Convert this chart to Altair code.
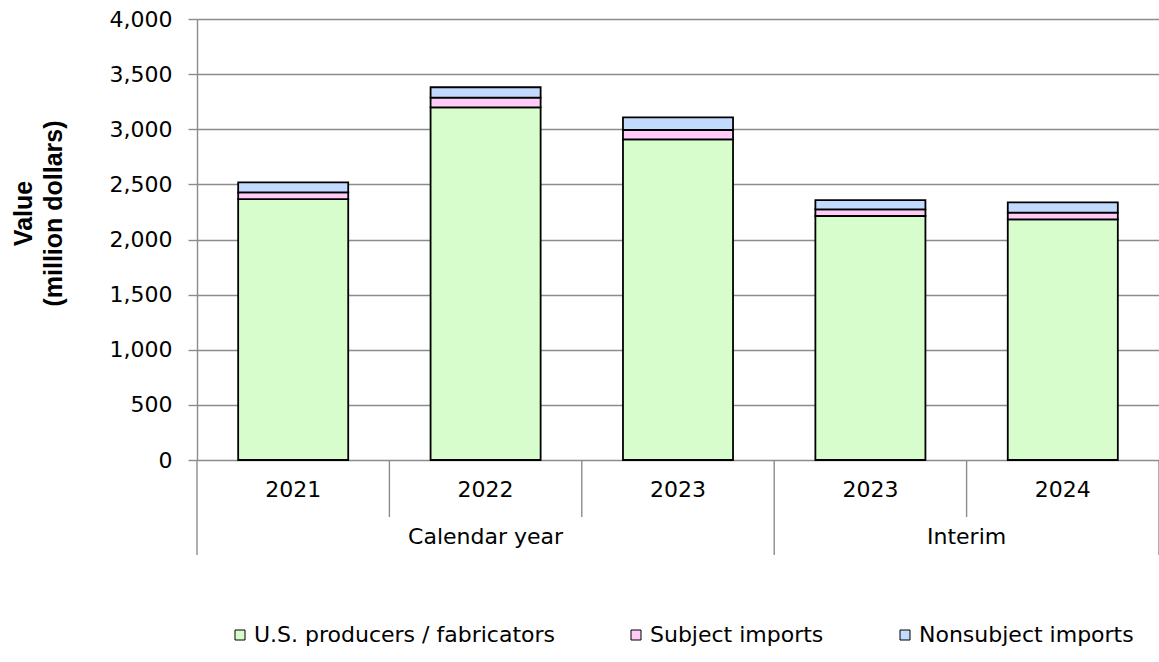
import altair as alt
import pandas as pd

# Values in million dollars, one entry per period column
years = ["2021", "2022", "2023", "2023", "2024"]
periods = ["Calendar year", "Calendar year", "Calendar year", "Interim", "Interim"]
us_producers = [2367, 3199, 2909, 2213, 2183]
subject_imports = [61, 87, 84, 61, 60]
nonsubject_imports = [91, 95, 115, 84, 94]

series = ["U.S. producers / fabricators", "Subject imports", "Nonsubject imports"]
colors = ["#d7fdcc", "#ffccf8", "#c2dafd"]

FONT = "DejaVu Sans"
TITLE_FONT = "Liberation Sans"
FS = 22
GRID = "#8c8c8c"

rows = []
for i, (u, s, n) in enumerate(zip(us_producers, subject_imports, nonsubject_imports)):
    for k, (name, v) in enumerate(zip(series, (u, s, n))):
        rows.append({"idx": i, "series": name, "order": k, "value": v})
bars_df = pd.DataFrame(rows)

labels_df = pd.DataFrame({"idx": list(range(len(years))), "year": years, "period": periods})

# group extents along the category axis
groups = []
for p in dict.fromkeys(periods):
    members = [i for i, q in enumerate(periods) if q == p]
    groups.append({"period": p, "start": members[0], "end": members[-1] + 1})
groups_df = pd.DataFrame(groups)

# separators: short ones between years, long ones between groups
bounds = sorted({g["start"] for g in groups} | {g["end"] for g in groups})
short_df = pd.DataFrame({"pos": [b for b in range(len(years) + 1) if b not in bounds]})
long_df = pd.DataFrame({"pos": bounds})

xscale = alt.Scale(domain=[0, len(years)], nice=False, zero=False)
yscale = alt.Scale(domain=[0, 4000], nice=False)
H = 441

bars = (
    alt.Chart(bars_df)
    .transform_stack(stack="value", groupby=["idx"], as_=["y0", "y1"],
                     sort=[alt.SortField("order", order="ascending")])
    .transform_calculate(xl="datum.idx + 0.214", xr="datum.idx + 0.786")
    .mark_bar(stroke="black", strokeWidth=1.8)
    .encode(
        x=alt.X("xl:Q", scale=xscale, axis=None),
        x2="xr:Q",
        y=alt.Y(
            "y0:Q",
            scale=yscale,
            axis=alt.Axis(
                values=list(range(0, 4001, 500)),
                format=",d",
                grid=True,
                gridColor=GRID,
                gridWidth=1.4,
                domainColor=GRID,
                domainWidth=1.4,
                tickColor=GRID,
                tickWidth=1.4,
                tickSize=9,
                labelPadding=16,
                labelFont=FONT,
                labelFontSize=FS,
                labelColor="black",
                title=["Value", "(million dollars)"],
                titleFont=TITLE_FONT,
                titleFontSize=25,
                titleFontWeight="bold",
                titleColor="black",
                titleAngle=270,
                titleAlign="center",
                titleBaseline="top",
                titleX=-186,
                titleY=194,
                titleLineHeight=30,
            ),
        ),
        y2="y1:Q",
        color=alt.Color(
            "series:N",
            scale=alt.Scale(domain=series, range=colors),
            sort=series,
            legend=alt.Legend(
                title=None,
                orient="none",
                direction="horizontal",
                legendX=32,
                legendY=605,
                symbolType="square",
                symbolSize=100,
                symbolStrokeColor="black",
                symbolStrokeWidth=1,
                labelFont=FONT,
                labelFontSize=FS,
                labelColor="black",
                labelLimit=0,
                labelOffset=3,
                columnPadding=70,
            ),
        ),
        order=alt.Order("order:Q"),
    )
)

short_seps = (
    alt.Chart(short_df)
    .mark_rule(color=GRID, strokeWidth=1.4)
    .encode(x=alt.X("pos:Q", scale=xscale, axis=None), y=alt.value(H), y2=alt.value(498))
)

long_seps = (
    alt.Chart(long_df)
    .mark_rule(color=GRID, strokeWidth=1.4)
    .encode(x=alt.X("pos:Q", scale=xscale, axis=None), y=alt.value(H), y2=alt.value(536))
)

year_text = (
    alt.Chart(labels_df)
    .transform_calculate(c="datum.idx + 0.5")
    .mark_text(font=FONT, fontSize=FS, color="black", baseline="middle")
    .encode(x=alt.X("c:Q", scale=xscale, axis=None), y=alt.value(471), text="year:N")
)

group_text = (
    alt.Chart(groups_df)
    .transform_calculate(c="(datum.start + datum.end) / 2")
    .mark_text(font=FONT, fontSize=FS, color="black", baseline="middle")
    .encode(x=alt.X("c:Q", scale=xscale, axis=None), y=alt.value(518), text="period:N")
)

chart = (
    alt.layer(bars, short_seps, long_seps, year_text, group_text)
    .properties(
        width=962,
        height=H,
        autosize=alt.AutoSizeParams(type="none"),
        padding={"left": 197, "top": 19, "right": 0, "bottom": 202},
    )
    .configure_view(stroke=None)
    .configure(background="white")
)

chart.save("out.html", embed_options={"renderer": "svg", "actions": False})
